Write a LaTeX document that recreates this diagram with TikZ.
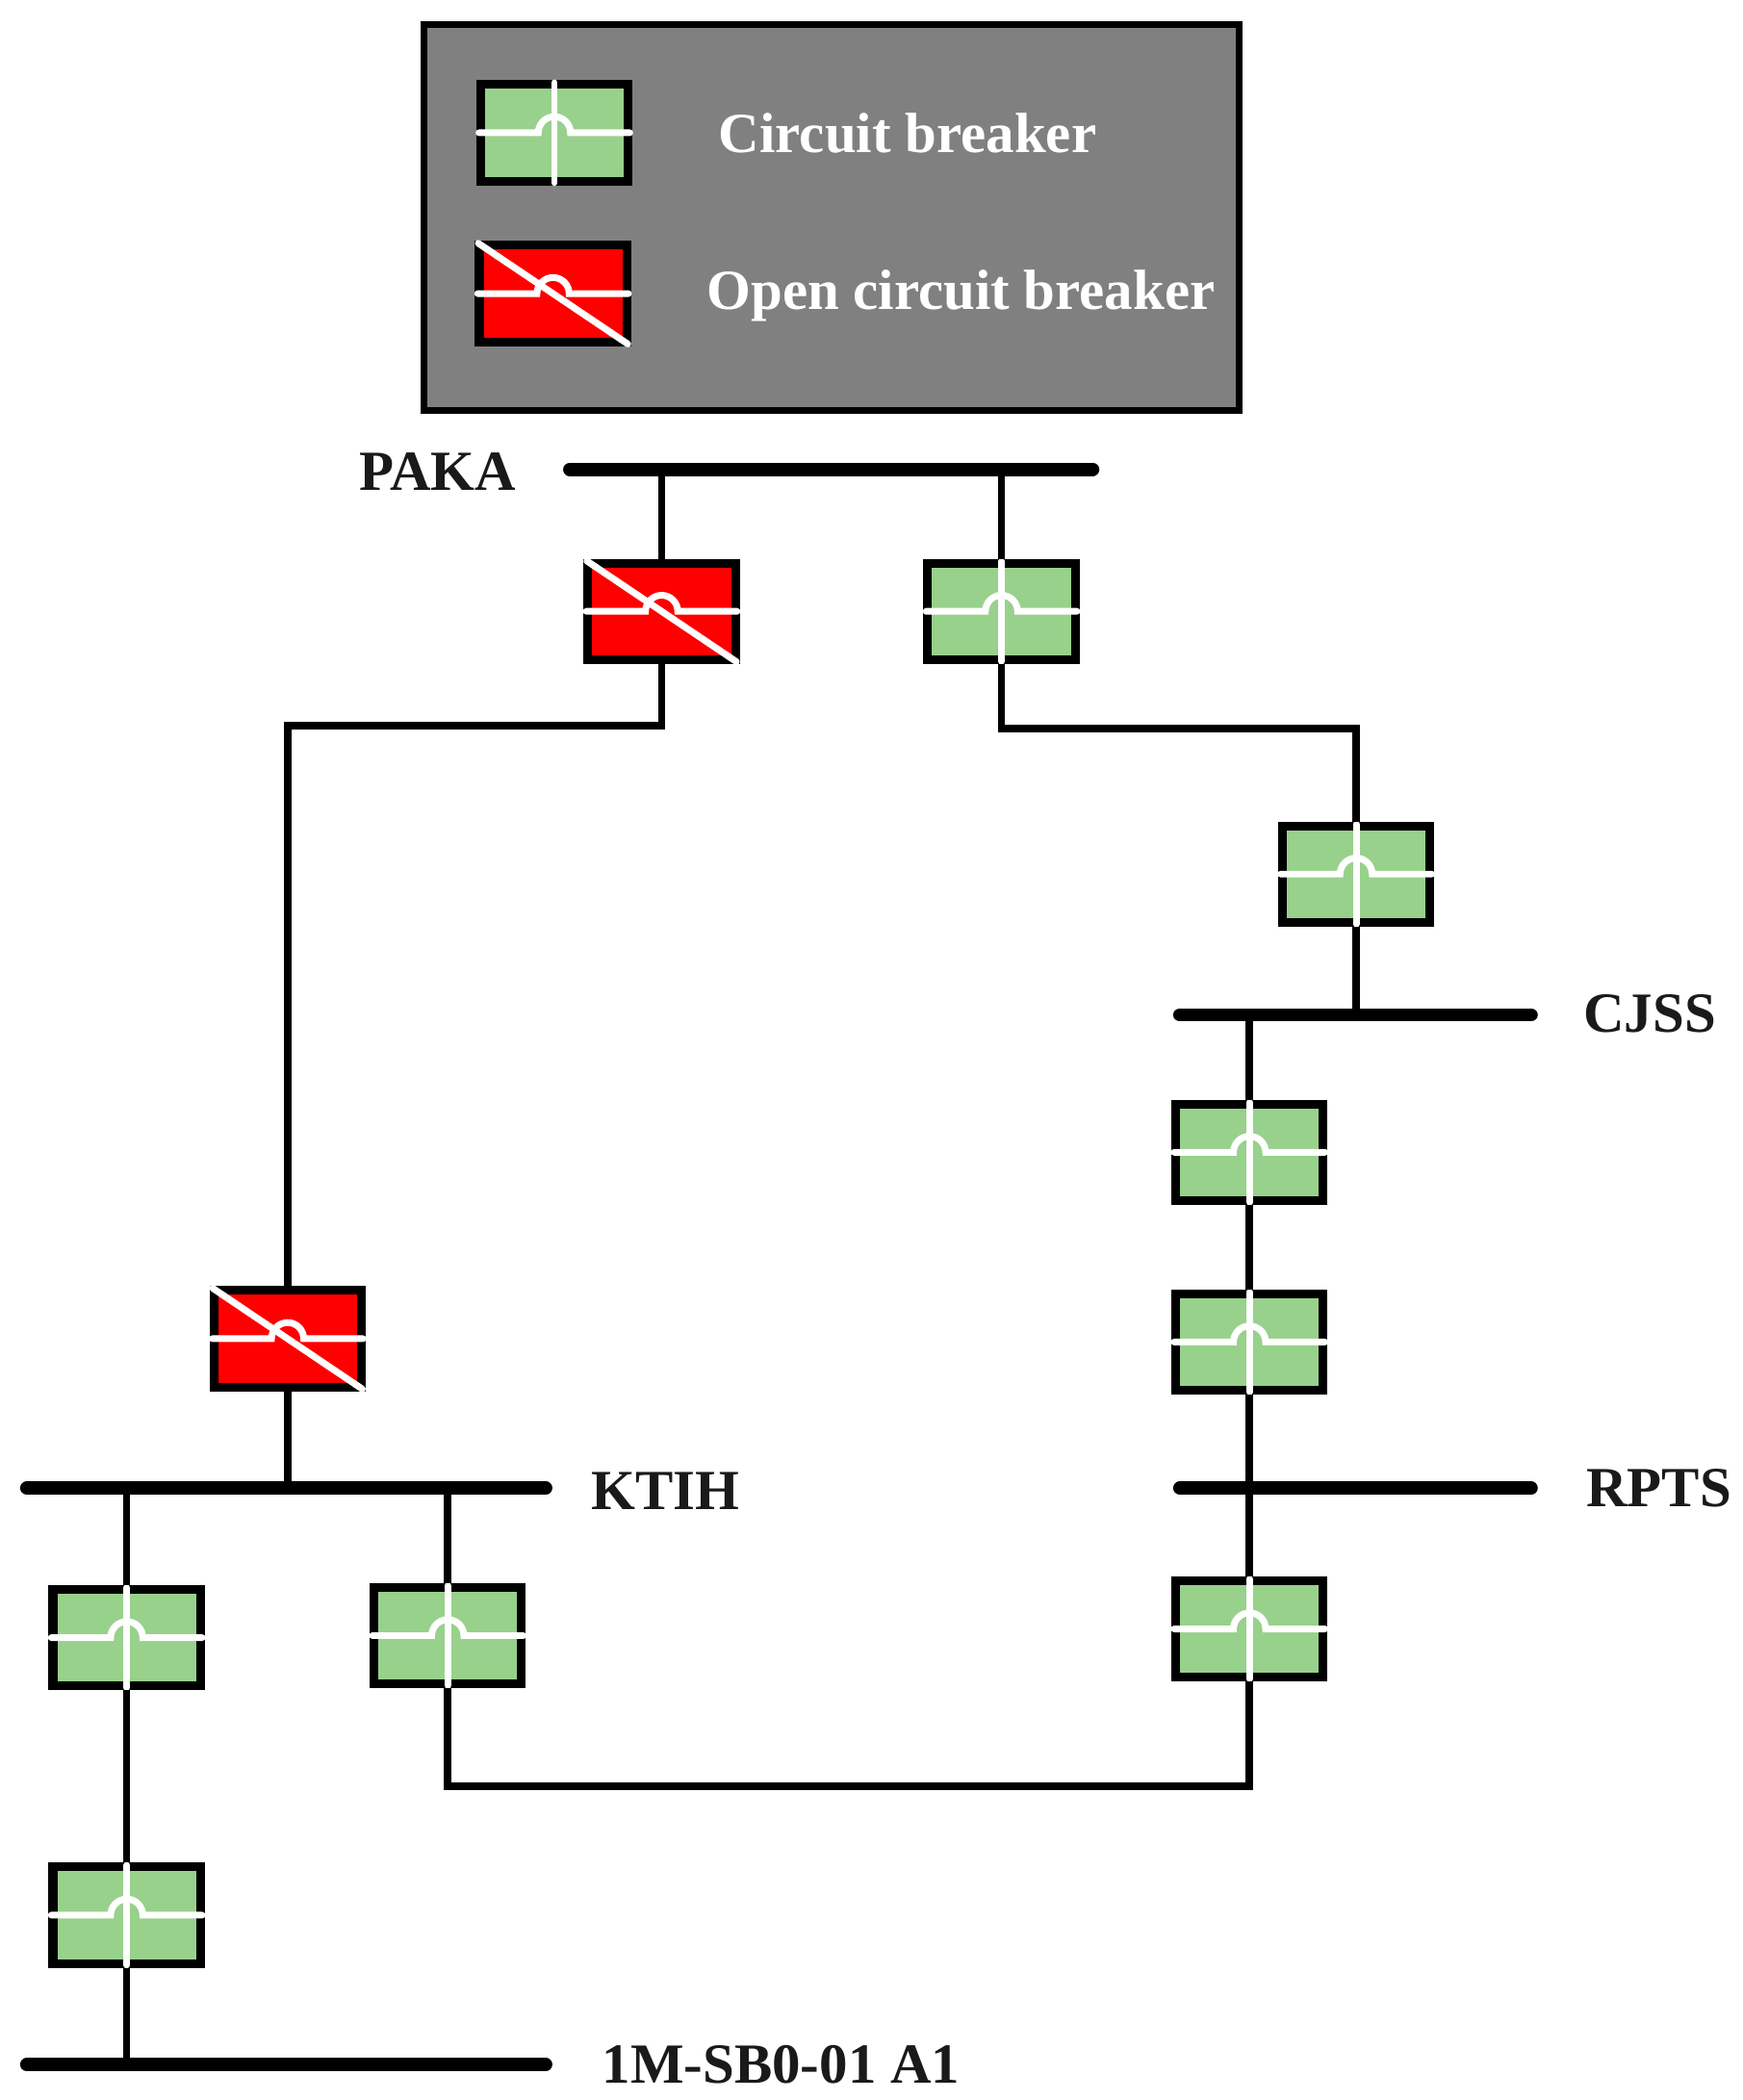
\documentclass[tikz,border=0pt]{standalone}
\usepackage{fontspec}
\setmainfont{Liberation Serif}
\usepackage{xcolor}
\definecolor{cbgreen}{RGB}{152,209,139}
\definecolor{cbred}{RGB}{255,0,0}
\definecolor{legendgray}{RGB}{128,128,128}
\definecolor{lbltext}{RGB}{26,26,26}

\tikzset{
  brk/.style={rectangle, draw=black, line width=6.5pt, minimum width=110pt,
    minimum height=72pt, inner sep=0pt},
  cb/.style={brk, fill=cbgreen},
  ocb/.style={brk, fill=cbred},
  wire/.style={black, line width=5.5pt},
  bus/.style={black, line width=10pt, line cap=round},
  whiteline/.style={white, line width=5pt, line cap=round},
  lbl/.style={anchor=base west, inner sep=0pt, text=lbltext,
    font=\fontsize{42.3}{48}\selectfont\bfseries},
  lgtext/.style={lbl, text=white},
}
\newcommand{\hump}[1]{%
  \draw[whiteline] ([xshift=2pt]#1.west) -- ([xshift=-12pt]#1.center)
    arc[start angle=180, end angle=0, radius=12pt] -- ([xshift=-2pt]#1.east);}
\newcommand{\closedmark}[1]{\hump{#1}%
  \draw[whiteline] ([yshift=-2pt]#1.north) -- ([yshift=2pt]#1.south);}
\newcommand{\openmark}[1]{\hump{#1}%
  \draw[whiteline, shorten <=3pt, shorten >=3pt] (#1.north west) -- (#1.south east);}

\begin{document}
\begin{tikzpicture}[x=1pt, y=-1pt]
  \useasboundingbox (0,0) rectangle (1300,1566.4);
  \filldraw[fill=legendgray, draw=black, line width=5pt]
    (316,18) rectangle (924,306);
  \node[cb] (lgcb) at (413.5,99) {};
  \node[ocb] (lgocb) at (412.5,219) {};
  \closedmark{lgcb}
  \openmark{lgocb}
  \node[lgtext] (lgcbtxt) at (536,114) {Circuit breaker};
  \node[lgtext] (lgocbtxt) at (527,231) {Open circuit breaker};

  \coordinate (pakaW) at (425,350);
  \coordinate (pakaE) at (815,350);
  \coordinate (cjssW) at (880,757);
  \coordinate (cjssE) at (1142,757);
  \coordinate (rptsW) at (880,1110);
  \coordinate (rptsE) at (1142,1110);
  \coordinate (ktihW) at (20,1110);
  \coordinate (ktihE) at (407,1110);
  \coordinate (sbW) at (20,1540);
  \coordinate (sbE) at (407,1540);

  \node[ocb] (bpaka) at (493.5,456) {};
  \node[cb] (bpakb) at (747,456) {};
  \node[cb] (bcjup) at (1011.5,652) {};
  \node[cb] (bcja) at (932,859.5) {};
  \node[cb] (bcjb) at (932,1001) {};
  \node[cb] (brpts) at (932,1215) {};
  \node[ocb] (bktih) at (214.5,998.5) {};
  \node[cb] (bkta) at (94.5,1221.5) {};
  \node[cb] (bktr) at (334,1220) {};
  \node[cb] (bktb) at (94.5,1428.5) {};
  \openmark{bpaka}
  \closedmark{bpakb}
  \closedmark{bcjup}
  \closedmark{bcja}
  \closedmark{bcjb}
  \closedmark{brpts}
  \openmark{bktih}
  \closedmark{bkta}
  \closedmark{bktr}
  \closedmark{bktb}

  \draw[wire] (bpaka.north) -- (bpaka.north |- pakaW);
  \draw[wire] (bpakb.north) -- (bpakb.north |- pakaW);
  \draw[wire] (bpaka.south) -- ++(0,46) -| (bktih.north);
  \draw[wire] (bpakb.south) -- ++(0,48) -| (bcjup.north);
  \draw[wire] (bcjup.south) -- (bcjup.south |- cjssW);
  \draw[wire] (bcja.north) -- (bcja.north |- cjssW);
  \draw[wire] (bcja.south) -- (bcjb.north);
  \draw[wire] (bcjb.south) -- (brpts.north);
  \draw[wire] (brpts.south) -- ++(0,78) -| (bktr.south);
  \draw[wire] (bktih.south) -- (bktih.south |- ktihW);
  \draw[wire] (bkta.north) -- (bkta.north |- ktihW);
  \draw[wire] (bktr.north) -- (bktr.north |- ktihW);
  \draw[wire] (bkta.south) -- (bktb.north);
  \draw[wire] (bktb.south) -- (bktb.south |- sbW);

  \draw[bus] (pakaW) -- (pakaE);
  \draw[bus] (cjssW) -- (cjssE);
  \draw[bus] (rptsW) -- (rptsE);
  \draw[bus] (ktihW) -- (ktihE);
  \draw[bus] (sbW) -- (sbE);

  \node[lbl] (lpaka) at (268,366) {PAKA};
  \node[lbl] (lcjss) at (1181,770) {CJSS};
  \node[lbl] (lrpts) at (1183,1124) {RPTS};
  \node[lbl] (lktih) at (441,1126) {KTIH};
  \node[lbl] (lsb) at (449,1554) {1M-SB0-01 A1};
\end{tikzpicture}
\end{document}
